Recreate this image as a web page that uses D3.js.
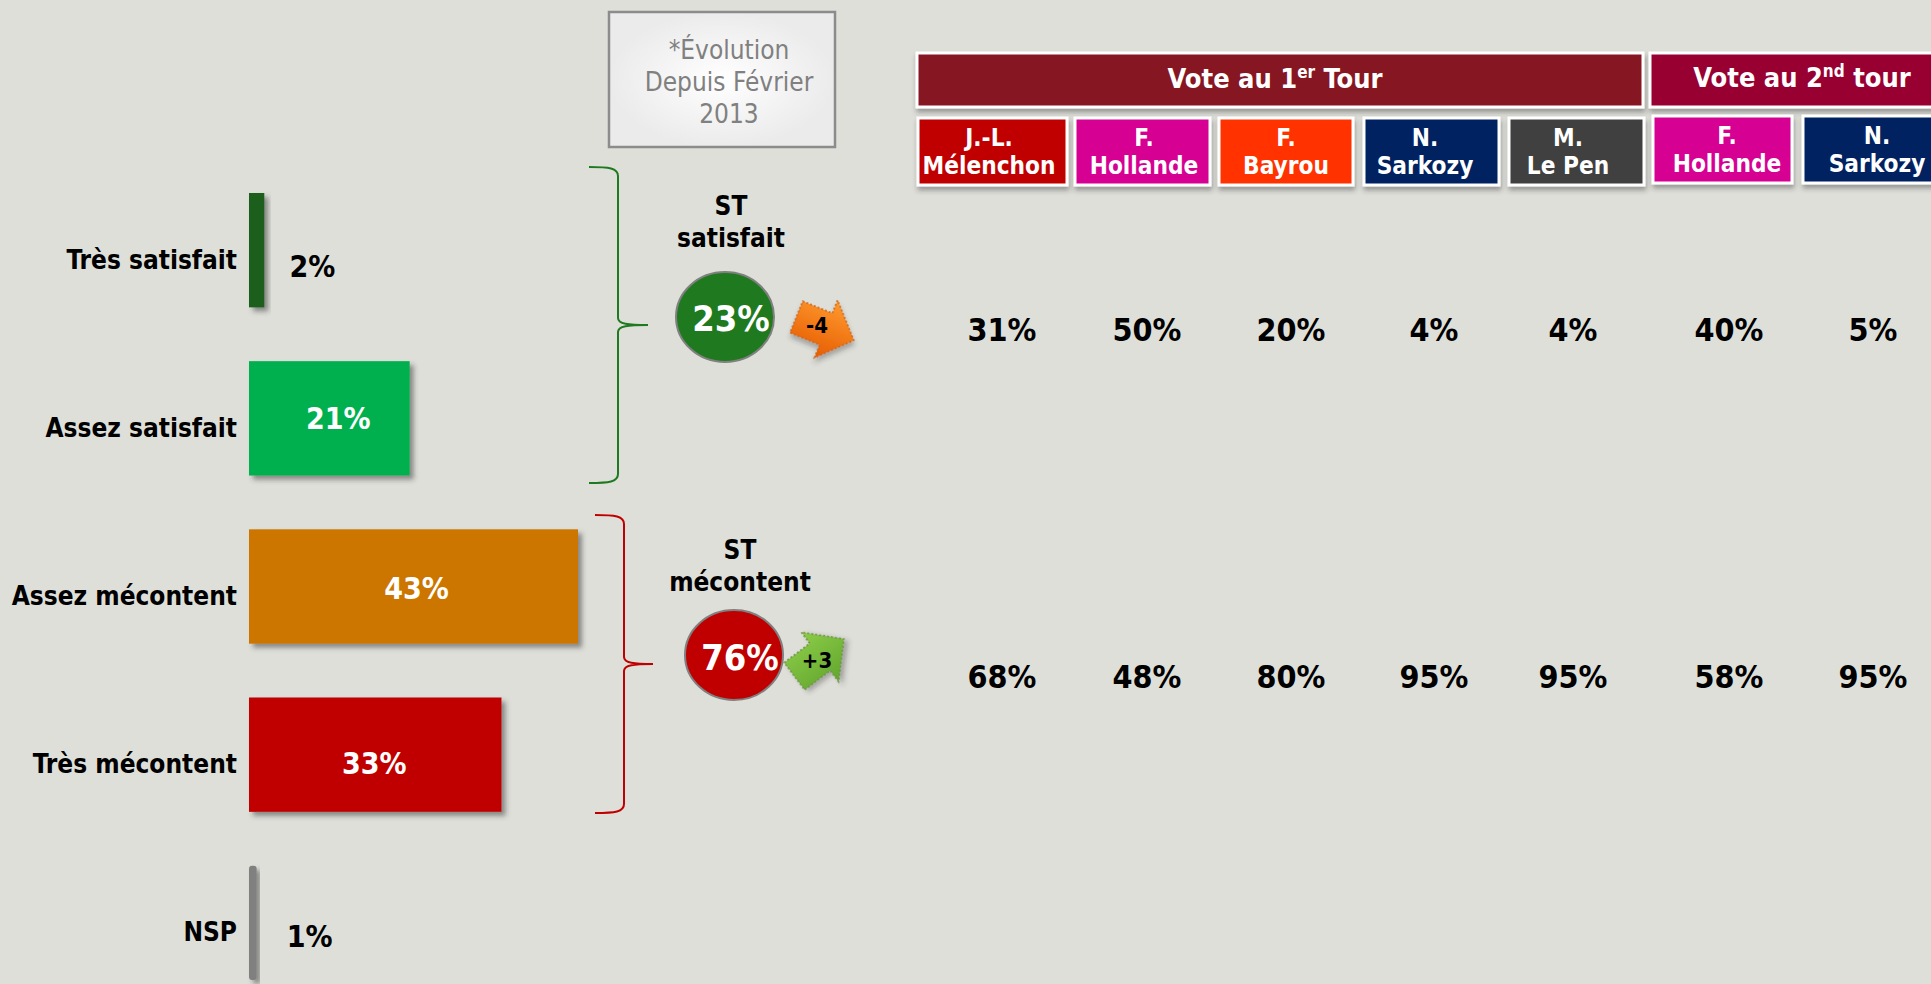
<!DOCTYPE html>
<html>
<head>
<meta charset="utf-8">
<script src="https://cdn.jsdelivr.net/npm/d3@7"></script>
<style>
    html, body { margin: 0; padding: 0; background: #dedfd9; overflow: hidden; }
    text { font-family: "DejaVu Sans Condensed", "DejaVu Sans", sans-serif; }
    .bold { font-weight: bold; }
</style>
</head>
<body>
<div id="chart"></div>
<script>
// bars on the left
const categories = ['Très satisfait', 'Assez satisfait', 'Assez mécontent', 'Très mécontent', 'NSP'];
const shares = [2, 21, 43, 33, 1];
const barColors = ['#1a5e1a', '#00b050', '#cc7604', '#c00000', '#808080'];

// the two summary groups
const summaryTitles = [['ST', 'satisfait'], ['ST', 'mécontent']];
const summaryValues = [23, 76];
const summaryDeltas = [-4, 3];
const summaryColors = ['#1f7a1f', '#c00000'];

// vote table
const firstRound = ['J.-L. Mélenchon', 'F. Hollande', 'F. Bayrou', 'N. Sarkozy', 'M. Le Pen'];
const secondRound = ['F. Hollande', 'N. Sarkozy'];
const satisfiedByVote = [31, 50, 20, 4, 4, 40, 5];
const unhappyByVote = [68, 48, 80, 95, 95, 58, 95];
const candidateColors = ['#c00000', '#d60093', '#ff3300', '#002060', '#404040', '#d60093', '#002060'];

const noteLines = ['*Évolution', 'Depuis Février', '2013'];

const width = 1931, height = 984;

const svg = d3.select('#chart').append('svg')
    .attr('width', width)
    .attr('height', height)
    .style('display', 'block');

const defs = svg.append('defs');

function addShadow(id, dx, dy, blur, opacity) {
    let f = defs.append('filter').attr('id', id)
        .attr('x', '-30%').attr('y', '-30%').attr('width', '170%').attr('height', '170%');
    f.append('feDropShadow')
        .attr('dx', dx).attr('dy', dy).attr('stdDeviation', blur)
        .attr('flood-color', '#333').attr('flood-opacity', opacity);
}
addShadow('barShadow', 4, 4, 2.5, 0.5);
addShadow('boxShadow', 1, 4, 2.5, 0.4);
addShadow('arrowShadow', 2, 4, 2.5, 0.35);

let noteFill = defs.append('radialGradient').attr('id', 'noteFill');
noteFill.append('stop').attr('offset', '0%').attr('stop-color', '#ffffff');
noteFill.append('stop').attr('offset', '100%').attr('stop-color', '#ebebeb');

let downFill = defs.append('linearGradient').attr('id', 'downFill')
    .attr('x1', 0).attr('y1', 0).attr('x2', 0).attr('y2', 1);
downFill.append('stop').attr('offset', '0%').attr('stop-color', '#ff9a30');
downFill.append('stop').attr('offset', '100%').attr('stop-color', '#e65c00');

let upFill = defs.append('linearGradient').attr('id', 'upFill')
    .attr('x1', 0).attr('y1', 0).attr('x2', 0).attr('y2', 1);
upFill.append('stop').attr('offset', '0%').attr('stop-color', '#8ccc48');
upFill.append('stop').attr('offset', '100%').attr('stop-color', '#62a62e');

// scales
const x = d3.scaleLinear().domain([0, 43]).range([249, 578]);
const y = d3.scaleBand().domain(categories).range([193, 980]).paddingInner(0.32);

// bars
const bars = svg.append('g').attr('id', 'bars');

bars.selectAll('rect')
    .data(categories)
    .join('rect')
    .attr('x', x(0))
    .attr('y', d => y(d))
    .attr('width', (d, i) => x(shares[i]) - x(0))
    .attr('height', y.bandwidth())
    .attr('rx', (d, i) => shares[i] < 2 ? 3 : 0)
    .attr('fill', (d, i) => barColors[i])
    .attr('filter', 'url(#barShadow)');

// category names
const yAxis = svg.append('g')
    .attr('transform', 'translate(' + (x(0) - 2) + ',10)')
    .call(d3.axisLeft(y).tickSize(0).tickPadding(10));
yAxis.select('.domain').remove();
yAxis.selectAll('text')
    .attr('class', 'bold')
    .attr('font-size', 26)
    .attr('fill', '#000');

// share labels, small bars have theirs outside in black
const labelOffsets = [[0, 17], [9, 1], [3, 2], [-1, 9], [0, 14]];
bars.selectAll('text')
    .data(categories)
    .join('text')
    .attr('class', 'bold')
    .attr('font-size', 30)
    .attr('text-anchor', 'middle')
    .attr('x', (d, i) => {
        if (shares[i] < 5) return x(shares[i]) + 48 + (i === 4 ? 5 : 0);
        return (x(0) + x(shares[i])) / 2 + labelOffsets[i][0];
    })
    .attr('y', (d, i) => y(d) + y.bandwidth() / 2 + labelOffsets[i][1] + 10)
    .attr('fill', (d, i) => shares[i] < 5 ? '#000' : '#fff')
    .text((d, i) => shares[i] + '%');

// braces
function bracePath(b) {
    let p = d3.path();
    p.moveTo(b.x0, b.top);
    p.bezierCurveTo(b.x0 + 20, b.top, b.spine, b.top + 1, b.spine, b.top + 9);
    p.lineTo(b.spine, b.mid - 7);
    p.bezierCurveTo(b.spine, b.mid - 1, b.spine + 10, b.mid, b.tip, b.mid);
    p.bezierCurveTo(b.spine + 10, b.mid, b.spine, b.mid + 1, b.spine, b.mid + 7);
    p.lineTo(b.spine, b.bottom - 9);
    p.bezierCurveTo(b.spine, b.bottom - 1, b.x0 + 20, b.bottom, b.x0, b.bottom);
    return p.toString();
}

const braces = [
    {x0: 589, spine: 618, tip: 648, top: 167, mid: 325, bottom: 483},
    {x0: 595, spine: 624, tip: 653, top: 515, mid: 664, bottom: 813}
];

svg.append('g').selectAll('path')
    .data(braces)
    .join('path')
    .attr('d', bracePath)
    .attr('fill', 'none')
    .attr('stroke', (d, i) => summaryColors[i])
    .attr('stroke-width', 2);

// summary circles and arrows
const summaryLayout = [
    {titleX: 731, titleY: 215, cx: 725, cy: 317, rx: 49, ry: 45, textX: 731, textY: 331,
        arrowX: 826, arrowY: 329, arrowAngle: 22, deltaX: 817, deltaY: 333},
    {titleX: 740, titleY: 559, cx: 734, cy: 655, rx: 49, ry: 45, textX: 740, textY: 670,
        arrowX: 820, arrowY: 657, arrowAngle: -37, deltaX: 817, deltaY: 668}
];

const arrowLine = d3.line();
const arrowShape = [[-32, -17], [0, -17], [0, -31], [30, 0], [0, 31], [0, 17], [-32, 17]];

summaryLayout.forEach(function(s, i) {
    let g = svg.append('g').attr('class', 'summary');

    g.selectAll('.title')
        .data(summaryTitles[i])
        .join('text')
        .attr('class', 'title bold')
        .attr('x', s.titleX)
        .attr('y', (d, k) => s.titleY + k * 32)
        .attr('font-size', 26)
        .attr('text-anchor', 'middle')
        .text(d => d);

    g.append('ellipse')
        .attr('cx', s.cx).attr('cy', s.cy)
        .attr('rx', s.rx).attr('ry', s.ry)
        .attr('fill', summaryColors[i])
        .attr('stroke', '#808080')
        .attr('stroke-width', 2);

    g.append('text')
        .attr('class', 'bold')
        .attr('x', s.textX).attr('y', s.textY)
        .attr('font-size', 36)
        .attr('text-anchor', 'middle')
        .attr('fill', '#fff')
        .text(summaryValues[i] + '%');

    g.append('path')
        .attr('d', arrowLine(arrowShape) + 'Z')
        .attr('transform', 'translate(' + s.arrowX + ',' + s.arrowY + ') rotate(' + s.arrowAngle + ')')
        .attr('fill', summaryDeltas[i] < 0 ? 'url(#downFill)' : 'url(#upFill)')
        .attr('stroke', summaryDeltas[i] < 0 ? '#c9651c' : '#6f8f4a')
        .attr('stroke-width', 1.5)
        .attr('stroke-dasharray', '2 2')
        .attr('filter', 'url(#arrowShadow)');

    g.append('text')
        .attr('class', 'bold')
        .attr('x', s.deltaX).attr('y', s.deltaY)
        .attr('font-size', 22)
        .attr('text-anchor', 'middle')
        .text((summaryDeltas[i] > 0 ? '+' : '') + summaryDeltas[i]);
});

// note box
const note = svg.append('g');
note.append('rect')
    .attr('x', 609).attr('y', 12)
    .attr('width', 226).attr('height', 135)
    .attr('fill', 'url(#noteFill)')
    .attr('stroke', '#8c8c8c')
    .attr('stroke-width', 2.5);
note.selectAll('text')
    .data(noteLines)
    .join('text')
    .attr('x', 729)
    .attr('y', (d, i) => 59 + i * 32)
    .attr('font-size', 26)
    .attr('text-anchor', 'middle')
    .attr('fill', '#808080')
    .text(d => d);

// table headers
const rounds = [
    {x0: 917, x1: 1643, top: 53, bottom: 107, fill: '#861824', cx: 1275, base: 88,
        before: 'Vote au 1', sup: 'er', after: ' Tour'},
    {x0: 1650, x1: 1940, top: 53, bottom: 107, fill: '#990033', cx: 1802, base: 87,
        before: 'Vote au 2', sup: 'nd', after: ' tour'}
];

const roundGroups = svg.append('g').selectAll('g')
    .data(rounds)
    .join('g');

roundGroups.append('rect')
    .attr('x', d => d.x0).attr('y', d => d.top)
    .attr('width', d => d.x1 - d.x0).attr('height', d => d.bottom - d.top)
    .attr('fill', d => d.fill)
    .attr('stroke', '#fff')
    .attr('stroke-width', 3)
    .attr('filter', 'url(#boxShadow)');

const roundTitles = roundGroups.append('text')
    .attr('class', 'bold')
    .attr('x', d => d.cx).attr('y', d => d.base)
    .attr('font-size', 27)
    .attr('text-anchor', 'middle')
    .attr('fill', '#fff');
roundTitles.append('tspan').text(d => d.before);
roundTitles.append('tspan').attr('font-size', 17).attr('dy', -10).text(d => d.sup);
roundTitles.append('tspan').attr('dy', 10).text(d => d.after);

// candidate columns
const candidates = firstRound.concat(secondRound);
const columns = d3.range(candidates.length);
const columnBoxes = [
    [918, 1067], [1075, 1210], [1219, 1353], [1364, 1499], [1509, 1644], [1653, 1792], [1803, 1940]
];
const columnCenters = [1002, 1147, 1291, 1434, 1573, 1729, 1873];
const labelCenters = [989, 1144, 1286, 1425, 1568, 1727, 1877];
const column = d3.scaleOrdinal().domain(columns).range(columnCenters);

const candidateCells = svg.append('g').selectAll('g')
    .data(columns)
    .join('g');

candidateCells.append('rect')
    .attr('x', i => columnBoxes[i][0])
    .attr('y', i => i < 5 ? 118 : 116)
    .attr('width', i => columnBoxes[i][1] - columnBoxes[i][0])
    .attr('height', 67)
    .attr('fill', i => candidateColors[i])
    .attr('stroke', '#fff')
    .attr('stroke-width', 3)
    .attr('filter', 'url(#boxShadow)');

candidateCells.selectAll('text')
    .data(i => {
        let cut = candidates[i].indexOf(' ');
        return [candidates[i].slice(0, cut), candidates[i].slice(cut + 1)].map(t => ({i: i, t: t}));
    })
    .join('text')
    .attr('class', 'bold')
    .attr('x', d => labelCenters[d.i])
    .attr('y', (d, k) => (d.i < 5 ? 146 : 144) + k * 28)
    .attr('font-size', 24.2)
    .attr('text-anchor', 'middle')
    .attr('fill', '#fff')
    .text(d => d.t);

// vote values
const voteRows = [satisfiedByVote, unhappyByVote];
const rowBaselines = [341, 688];

voteRows.forEach(function(row, r) {
    svg.append('g').selectAll('text')
        .data(row)
        .join('text')
        .attr('class', 'bold')
        .attr('x', (d, i) => column(i))
        .attr('y', rowBaselines[r])
        .attr('font-size', 32)
        .attr('text-anchor', 'middle')
        .text(d => d + '%');
});
</script>
</body>
</html>
